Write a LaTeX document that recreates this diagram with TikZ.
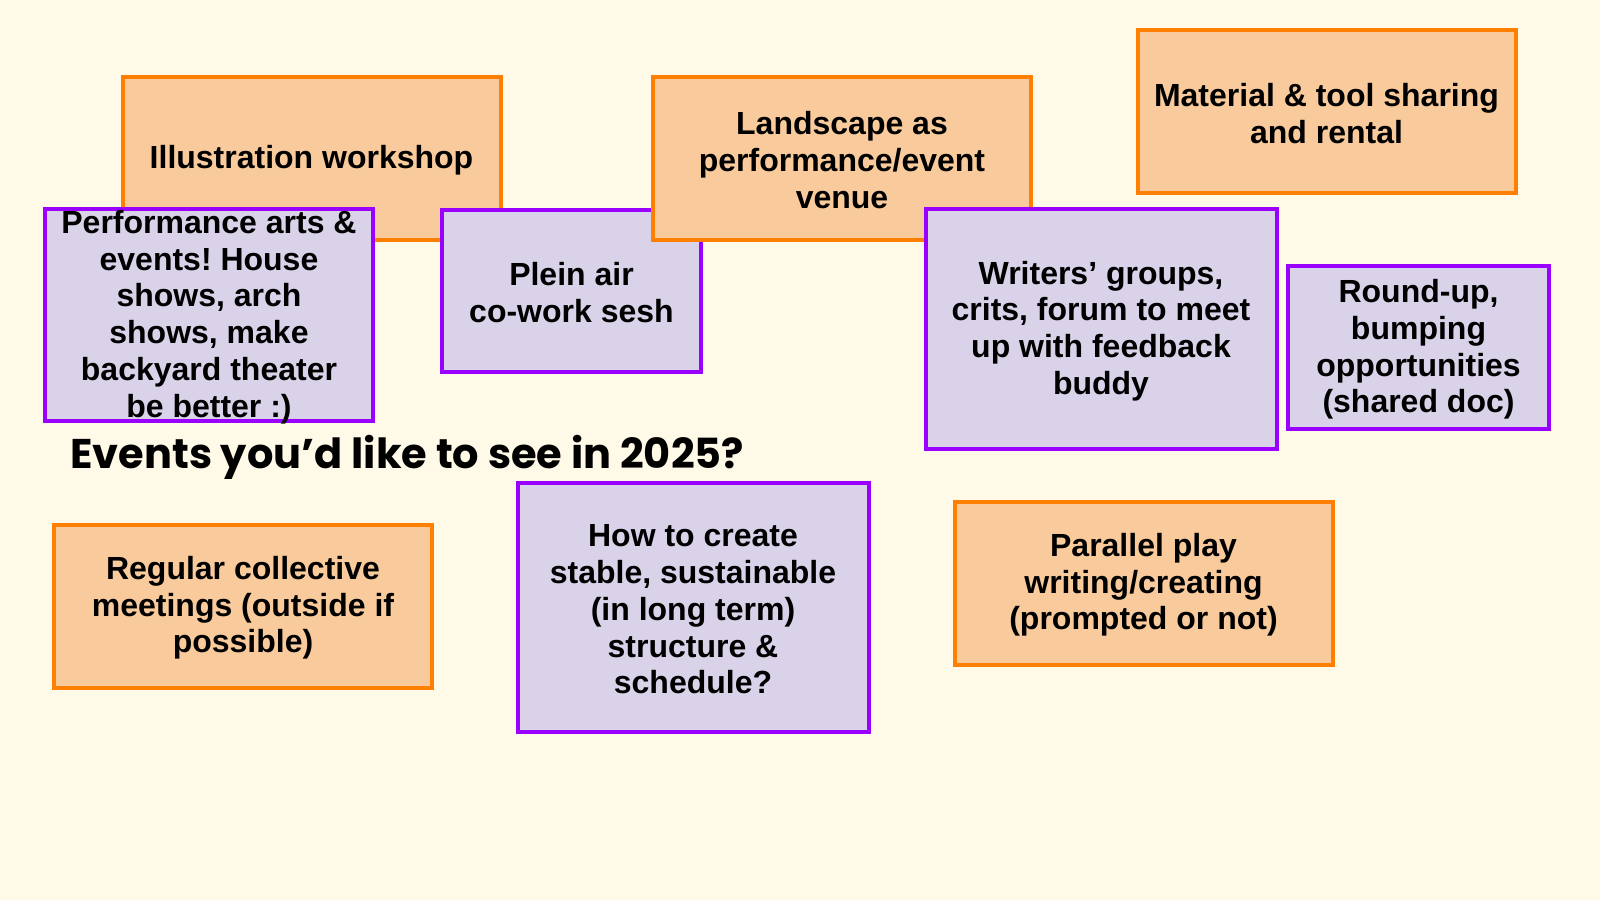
\documentclass[tikz,border=0pt]{standalone}
\usepackage{fontspec}
\setmainfont{Liberation Sans}
\newfontfamily\titlefont{Poppins}
\frenchspacing
\definecolor{bg}{HTML}{FFFAE8}
\definecolor{oline}{HTML}{FF8000}
\definecolor{ofill}{HTML}{F9CB9C}
\definecolor{pline}{HTML}{9A00FF}
\definecolor{pfill}{HTML}{D9D2E9}
\tikzset{
  card/.style={draw, line width=4pt, inner sep=0pt, outer sep=0pt},
  cardtext/.style={align=center, inner sep=0pt, yshift=-2pt, text=black,
    font=\frenchspacing\bfseries\fontsize{32}{36.7}\selectfont},
  obox/.style={card, draw=oline, fill=ofill, minimum width=378pt, minimum height=163pt},
  pbox/.style={card, draw=pline, fill=pfill},
  titletext/.style={inner sep=0pt, anchor=base west, font=\titlefont\bfseries\fontsize{41.5}{46}\selectfont}
}
\begin{document}
\begin{tikzpicture}[x=1pt,y=1pt]
\useasboundingbox (0,0) rectangle (1600,-900);
\fill[bg] (0,0) rectangle (1600,-900);
\node[obox, label={[cardtext]center:Illustration workshop}] (illu) at (311.5,-158.5) {};
\node[pbox, minimum width=328pt, minimum height=212pt, label={[cardtext]center:Performance arts \&\\events! House\\shows, arch\\shows, make\\backyard theater\\be better :)}] (perf) at (209,-315) {};
\node[pbox, minimum width=259pt, minimum height=162pt, label={[cardtext]center:Plein air\\co-work sesh}] (plein) at (571.5,-290.5) {};
\node[obox, label={[cardtext]center:Landscape as\\performance/event\\venue}] (land) at (842,-158) {};
\node[pbox, minimum width=351pt, minimum height=240pt, label={[cardtext]center:Writers’ groups,\\crits, forum to meet\\up with feedback\\buddy}] (writ) at (1101,-329) {};
\node[obox, label={[cardtext]center:Material \& tool sharing\\and rental}] (mat) at (1326.5,-111.5) {};
\node[pbox, minimum width=261pt, minimum height=163pt, label={[cardtext]center:Round-up,\\bumping\\opportunities\\(shared doc)}] (round) at (1418.5,-347.5) {};
\node[titletext] (title) at (70,-468) {Events you’d like to see in 2025?};
\node[obox, label={[cardtext]center:Regular collective\\meetings (outside if\\possible)}] (reg) at (243,-606) {};
\node[pbox, minimum width=351pt, minimum height=249pt, label={[cardtext]center:How to create\\stable, sustainable\\(in long term)\\structure \&\\schedule?}] (how) at (693,-607.5) {};
\node[obox, label={[cardtext]center:Parallel play\\writing/creating\\(prompted or not)}] (par) at (1143.5,-583) {};
\end{tikzpicture}
\end{document}
